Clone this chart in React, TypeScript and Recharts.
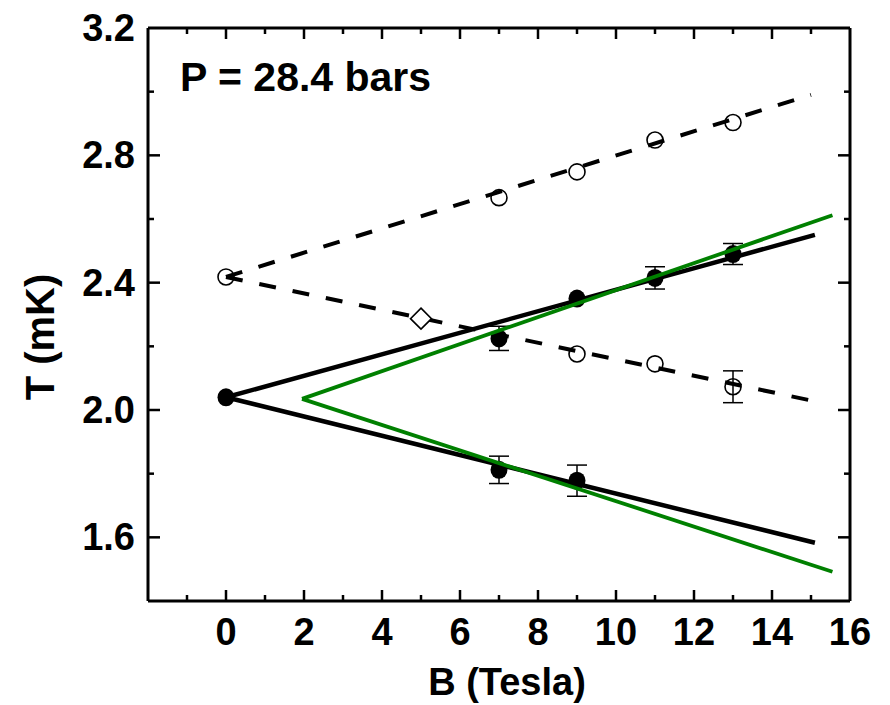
import React from 'react';
import {
  ComposedChart,
  Scatter,
  XAxis,
  YAxis,
  ErrorBar,
  ReferenceLine,
} from 'recharts';

// B (Tesla) and T (mK) values
const B_FILLED_UP = [0, 7, 9, 11, 13];
const T_FILLED_UP = [2.04, 2.225, 2.35, 2.415, 2.49];
const ERR_FILLED_UP = [0, 0.038, 0, 0.035, 0.033];

const B_FILLED_LOW = [7, 9];
const T_FILLED_LOW = [1.812, 1.778];
const ERR_FILLED_LOW = [0.043, 0.049];

const B_OPEN_UP = [0, 7, 9, 11, 13];
const T_OPEN_UP = [2.418, 2.667, 2.748, 2.848, 2.903];

const B_OPEN_LOW = [9, 11, 13];
const T_OPEN_LOW = [2.176, 2.145, 2.073];
const ERR_OPEN_LOW = [0, 0, 0.05];

const B_DIAMOND = [5];
const T_DIAMOND = [2.287];

// straight-line guides: [B, T] end points
const SOLID_UP = [[0, 2.04], [15.1, 2.55]];
const SOLID_LOW = [[0, 2.04], [15.1, 1.583]];
const DASH_UP = [[0, 2.418], [15, 2.99]];
const DASH_LOW = [[0, 2.418], [15, 2.03]];
const GREEN_UP = [[1.95, 2.035], [15.55, 2.612]];
const GREEN_LOW = [[1.95, 2.035], [15.55, 1.492]];

const X_TICKS = [-2, -1, 0, 1, 2, 3, 4, 5, 6, 7, 8, 9, 10, 11, 12, 13, 14, 15, 16];
const Y_TICKS = [1.4, 1.6, 1.8, 2.0, 2.2, 2.4, 2.6, 2.8, 3.0, 3.2];
const X_MAX = 16;
const Y_MAX = 3.2;

const W = 882;
const H = 697;
const PLOT_W = 702;
const PLOT_H = 573;
const FONT = '"Liberation Sans", Arial, sans-serif';

const toPts = (xs: number[], ys: number[], errs?: number[]) =>
  xs.map((x, i) => ({ x, y: ys[i], err: errs ? errs[i] : 0 }));
const seg = (p: number[][]) => p.map(([x, y]) => ({ x, y }));

const XTick = (props: any) => {
  const { x, y, payload } = props;
  const v = payload.value;
  const major = v % 2 === 0;
  const edge = v === -2 || v === 16;
  const len = major ? 11 : 6;
  return (
    <g>
      {!edge && (
        <>
          <line x1={x} y1={y} x2={x} y2={y - len} stroke="#000" strokeWidth={2.5} />
          <line x1={x} y1={y - PLOT_H} x2={x} y2={y - PLOT_H + len} stroke="#000" strokeWidth={2.5} />
        </>
      )}
      {major && v >= 0 && (
        <text x={x} y={y + 44} textAnchor="middle" fontFamily={FONT} fontWeight="bold" fontSize={38} fill="#000">
          {v}
        </text>
      )}
    </g>
  );
};

const YTick = (props: any) => {
  const { x, y, payload } = props;
  const v = payload.value;
  const idx = Math.round((v - 1.4) / 0.2);
  const major = idx % 2 === 1;
  const edge = idx === 0 || idx === 9;
  const len = major ? 12 : 6;
  return (
    <g>
      {!edge && (
        <>
          <line x1={x} y1={y} x2={x + len} y2={y} stroke="#000" strokeWidth={2.5} />
          <line x1={x + PLOT_W} y1={y} x2={x + PLOT_W - len} y2={y} stroke="#000" strokeWidth={2.5} />
        </>
      )}
      {major && (
        <text x={x - 13} y={y} dy={13} textAnchor="end" fontFamily={FONT} fontWeight="bold" fontSize={38} fill="#000">
          {v.toFixed(1)}
        </text>
      )}
    </g>
  );
};

const FilledDot = (props: any) => {
  const { cx, cy } = props;
  return <ellipse cx={cx} cy={cy} rx={8.5} ry={9} fill="#000" />;
};

const OpenDot = (props: any) => {
  const { cx, cy } = props;
  return <circle cx={cx} cy={cy} r={8} fill="none" stroke="#000" strokeWidth={1.6} />;
};

const Diamond = (props: any) => {
  const { cx, cy } = props;
  const r = 10.5;
  return (
    <polygon
      points={`${cx},${cy - r} ${cx + r},${cy} ${cx},${cy + r} ${cx - r},${cy}`}
      fill="#fff"
      stroke="#000"
      strokeWidth={1.6}
    />
  );
};

const NoDot = () => <g />;

const dashed = { stroke: '#000', strokeWidth: 4, strokeDasharray: '17 17' };
const solid = { stroke: '#000', strokeWidth: 4.5 };
const green = { stroke: '#008000', strokeWidth: 3.8 };

export default function App() {
  return (
    <ComposedChart
      width={W}
      height={H}
      margin={{ top: 20, right: 40, bottom: 0, left: 0 }}
      style={{ background: '#fff' }}
    >
      <XAxis
        dataKey="x"
        type="number"
        domain={[-2, X_MAX]}
        ticks={X_TICKS}
        interval={0}
        height={104}
        tickSize={0}
        tickMargin={0}
        tickLine={false}
        tick={XTick}
        axisLine={{ stroke: '#000', strokeWidth: 3 }}
        allowDataOverflow
        label={{
          content: (p: any) => {
            const vb = p.viewBox;
            return (
              <text x={vb.x + vb.width / 2 + 8} y={687} textAnchor="middle" fontFamily={FONT} fontWeight="bold" fontSize={38} fill="#000">
                B (Tesla)
              </text>
            );
          },
        }}
      />
      <YAxis
        dataKey="y"
        type="number"
        domain={[1.4, Y_MAX]}
        ticks={Y_TICKS}
        interval={0}
        width={140}
        tickSize={0}
        tickMargin={0}
        tickLine={false}
        tick={YTick}
        axisLine={{ stroke: '#000', strokeWidth: 3 }}
        allowDataOverflow
        label={{
          content: () => (
            <text transform="translate(46 329) rotate(-90)" textAnchor="middle" fontFamily={FONT} fontWeight="bold" fontSize={40} fill="#000">
              T (mK)
            </text>
          ),
        }}
      />

      {/* top and right frame */}
      <ReferenceLine y={Y_MAX} stroke="#000" strokeWidth={3} />
      <ReferenceLine x={X_MAX} stroke="#000" strokeWidth={3} />

      <Scatter data={seg(DASH_UP)} dataKey="y" shape={NoDot} line={dashed} isAnimationActive={false} />
      <Scatter data={seg(DASH_LOW)} dataKey="y" shape={NoDot} line={dashed} isAnimationActive={false} />
      <Scatter data={seg(SOLID_UP)} dataKey="y" shape={NoDot} line={solid} isAnimationActive={false} />
      <Scatter data={seg(SOLID_LOW)} dataKey="y" shape={NoDot} line={solid} isAnimationActive={false} />

      <Scatter data={toPts(B_OPEN_UP, T_OPEN_UP)} dataKey="y" shape={OpenDot} isAnimationActive={false} />
      <Scatter data={toPts(B_OPEN_LOW, T_OPEN_LOW, ERR_OPEN_LOW)} dataKey="y" shape={OpenDot} isAnimationActive={false}>
        <ErrorBar dataKey="err" direction="y" width={10} stroke="#000" strokeWidth={1.5} />
      </Scatter>
      <Scatter data={toPts(B_DIAMOND, T_DIAMOND)} dataKey="y" shape={Diamond} isAnimationActive={false} />
      <Scatter data={toPts(B_FILLED_UP, T_FILLED_UP, ERR_FILLED_UP)} dataKey="y" shape={FilledDot} isAnimationActive={false}>
        <ErrorBar dataKey="err" direction="y" width={10} stroke="#000" strokeWidth={1.5} />
      </Scatter>
      <Scatter data={toPts(B_FILLED_LOW, T_FILLED_LOW, ERR_FILLED_LOW)} dataKey="y" shape={FilledDot} isAnimationActive={false}>
        <ErrorBar dataKey="err" direction="y" width={10} stroke="#000" strokeWidth={1.5} />
      </Scatter>

      <Scatter data={seg(GREEN_UP)} dataKey="y" shape={NoDot} line={green} isAnimationActive={false} />
      <Scatter data={seg(GREEN_LOW)} dataKey="y" shape={NoDot} line={green} isAnimationActive={false} />

      <text x={172} y={83} fontFamily={FONT} fontWeight="bold" fontSize={41} fill="#000">
        P = 28.4 bars
      </text>
    </ComposedChart>
  );
}
